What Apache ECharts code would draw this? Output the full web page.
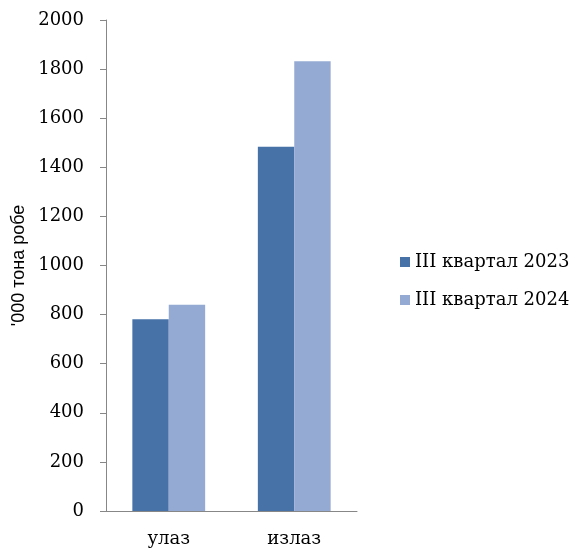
<!DOCTYPE html>
<html><head><meta charset="utf-8">
<script src="https://cdn.jsdelivr.net/npm/echarts@6/dist/echarts.min.js"></script>
<style>html,body{margin:0;padding:0;background:#fff}#c{width:571px;height:548px}</style>
</head><body><div id="c"></div>
<script>
var categories = ['улаз', 'излаз'];
var seriesNames = ['III квартал 2023', 'III квартал 2024'];
var values2023 = [781, 1484];
var values2024 = [840, 1832];
var yTicks = [0, 200, 400, 600, 800, 1000, 1200, 1400, 1600, 1800, 2000];
var yName = "'000 тона робе";

var serif = 'DejaVu Serif';
var chart = echarts.init(document.getElementById('c'), null, {renderer: 'canvas'});
chart.setOption({
  animation: false,
  backgroundColor: '#fff',
  grid: {left: 106, right: 214, top: 20, bottom: 37, containLabel: false},
  legend: {
    orient: 'vertical', left: 395, top: 248, itemGap: 20,
    itemWidth: 10, itemHeight: 10, icon: 'rect',
    textStyle: {fontFamily: serif, fontSize: 18, color: '#000', padding: [0,0,0,0]},
    data: seriesNames
  },
  xAxis: {
    type: 'category', data: categories,
    axisLine: {lineStyle: {color: '#878787', width: 1}},
    axisTick: {show: false},
    axisLabel: {fontFamily: serif, fontSize: 18, color: '#000', margin: 19}
  },
  yAxis: {
    type: 'value', min: yTicks[0], max: yTicks[yTicks.length-1], interval: 200,
    name: yName, nameLocation: 'middle', nameGap: 78, nameRotate: 90,
    nameTextStyle: {fontFamily: 'Liberation Sans', fontSize: 18, color: '#000'},
    axisLine: {show: true, lineStyle: {color: '#878787', width: 1}},
    axisTick: {show: true, length: 6, lineStyle: {color: '#878787'}},
    splitLine: {show: false},
    axisLabel: {fontFamily: serif, fontSize: 18, color: '#000', margin: 22,
      formatter: function (v) { return String(v); }}
  },
  series: [
    {name: seriesNames[0], type: 'bar', data: values2023, barGap: '0%', barCategoryGap: '42%', itemStyle: {color: '#4672A8'}},
    {name: seriesNames[1], type: 'bar', data: values2024, barGap: '0%', barCategoryGap: '42%', itemStyle: {color: '#94AAD3'}}
  ]
});
</script></body></html>
